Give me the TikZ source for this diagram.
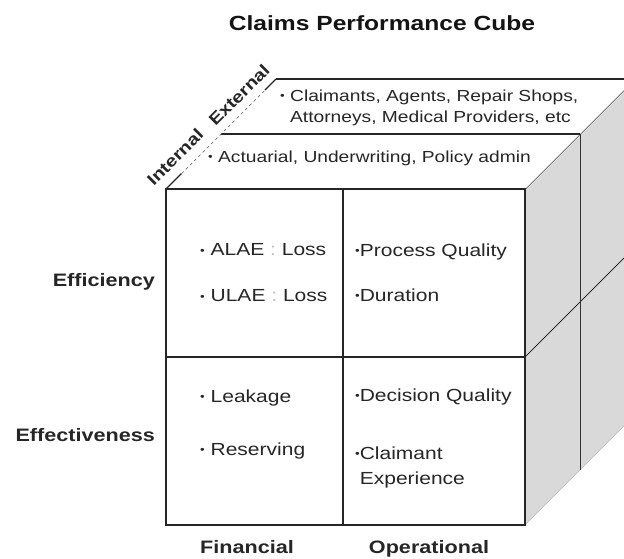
\documentclass[tikz,border=0pt]{standalone}
\usepackage{fontspec}
\setmainfont{Liberation Sans}[FakeStretch=1.2]
\usetikzlibrary{calc}
\colorlet{faintgray}{black!25}
\newcommand{\bul}{\raisebox{0.2ex}{\fontsize{11}{11}\selectfont\textbullet}}

\begin{document}
\begin{tikzpicture}[
    x=1pt, y=-1pt,
    every node/.style={inner sep=0pt, text=black!85},
    edge/.style={draw=black!85, line width=1.3pt},
    thinedge/.style={draw=black!80, line width=0.9pt},
    title/.style={font=\fontsize{20.5}{24}\selectfont\bfseries, text=black!92},
    axis/.style={font=\fontsize{18}{22}\selectfont\bfseries},
    depth/.style={font=\fontsize{16.5}{20}\selectfont\bfseries, rotate=45},
    cell/.style={font=\fontsize{17.5}{25}\selectfont, anchor=west, align=left},
    topcell/.style={font=\fontsize{16}{21}\selectfont, anchor=west, align=left}
  ]

  \useasboundingbox (0,0) rectangle (624,558);
  \fill[white] (0,0) rectangle (624,558);
  \clip (0,0) rectangle (624,558);

  % Cube corners
  \coordinate (ftl) at (166,189);
  \coordinate (ftr) at (525,189);
  \coordinate (fbl) at (166,525);
  \coordinate (fbr) at (525,525);
  \coordinate (fml) at (166,357);
  \coordinate (fmr) at (525,357);
  \coordinate (fmt) at (343,189);
  \coordinate (fmb) at (343,525);
  \coordinate (mtl) at (221,134);
  \coordinate (mtr) at (580,134);
  \coordinate (mbr) at (580,470);
  \coordinate (btl) at (276,79);
  \coordinate (btr) at (635,79);
  \coordinate (bmr) at (635,247);
  \coordinate (bbr) at (635,415);

  % Right face
  \fill[gray!30] (ftr) -- (btr) -- (bbr) -- (fbr) -- cycle;
  \draw[gray!55, line width=0.6pt] (fbr) -- (bbr);
  \draw[thinedge] (mtr) -- (mbr);
  \draw[thinedge] (fmr) -- (bmr);
  \draw[edge] (ftr) -- (btr);

  % Top face
  \fill[white] (ftl) -- (btl) -- (btr) -- (ftr) -- cycle;
  \draw[edge] (btl) -- (btr);
  \draw[edge] (mtl) -- (mtr);
  \draw[edge] (ftl) -- ($(ftl)!.14!(btl)$);
  \draw[black!55, line width=0.7pt, dashed] ($(ftl)!.14!(btl)$) -- ($(ftl)!.9!(btl)$);
  \draw[edge] ($(ftl)!.9!(btl)$) -- (btl);

  % Front face
  \draw[edge, fill=white] (ftl) rectangle (fbr);
  \draw[edge] (fmt) -- (fmb);
  \draw[edge] (fml) -- (fmr);

  % Title and axis labels
  \node[title] (title) at (382,23) {Claims Performance Cube};
  \node[axis, anchor=east] (effic) at (155,282) {Efficiency};
  \node[axis, anchor=east] (effect) at (155,435) {Effectiveness};
  \node[axis] (fin) at (247,547) {Financial};
  \node[axis] (oper) at (429,549) {Operational};
  \node[depth] (intern) at (175,157) {Internal};
  \node[depth] (extern) at (239,95) {External};

  % Top face entries
  \node[topcell] (ext) at (280,107.5)
    {\bul~Claimants, Agents, Repair Shops,\\\phantom{\bul~}Attorneys, Medical Providers, etc};
  \node[topcell] (int) at (208,158) {\bul~Actuarial, Underwriting, Policy admin};

  % Front face entries
  \node[cell] (alae) at (200,250) {\bul~ALAE {\color{faintgray}:} Loss};
  \node[cell] (ulae) at (200,296) {\bul~ULAE {\color{faintgray}:} Loss};
  \node[cell] (leak) at (200,398) {\bul~Leakage};
  \node[cell] (resv) at (200,451) {\bul~Reserving};
  \node[cell] (procq) at (355,252) {\bul Process Quality};
  \node[cell] (dur) at (355,295) {\bul Duration};
  \node[cell] (decq) at (355,397) {\bul Decision Quality};
  \node[cell] (claimx) at (355,467.5) {\bul Claimant\\\phantom{\bul}Experience};

\end{tikzpicture}
\end{document}
